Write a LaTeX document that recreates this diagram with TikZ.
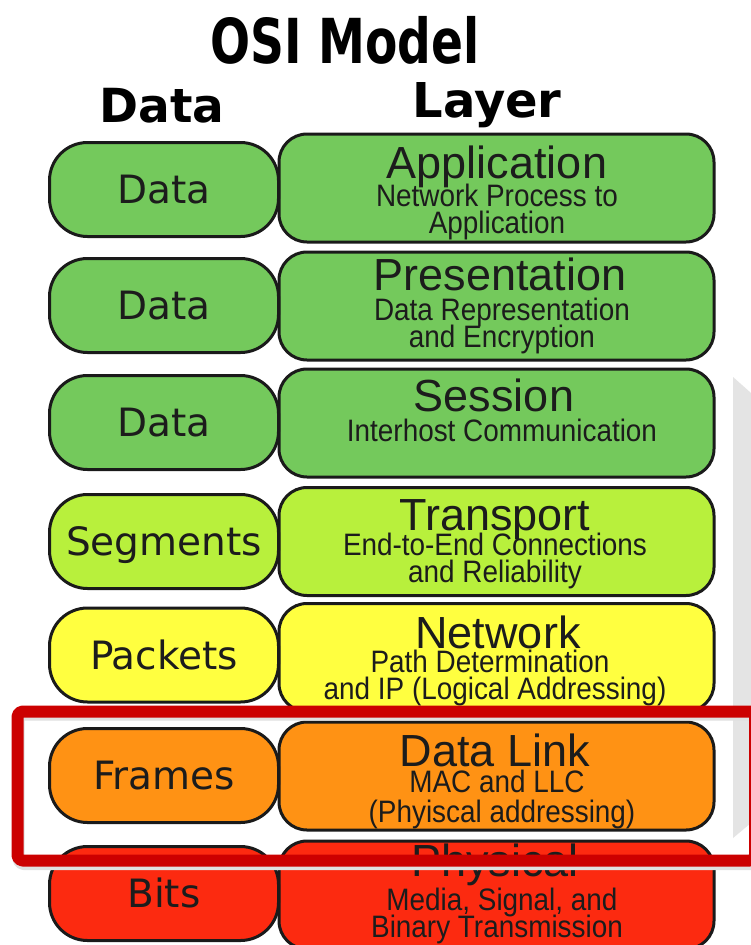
\documentclass[tikz,border=0pt]{standalone}
\usepackage{fontspec}
\setmainfont{Liberation Sans}
\newfontfamily\tituloFont[FakeStretch=0.76]{DejaVu Sans}
\newfontfamily\unidadFont{DejaVu Sans}
\newfontfamily\capaFont{Liberation Sans}
\newfontfamily\detalleFont[FakeStretch=0.9]{Liberation Sans}

\definecolor{verde}{RGB}{116,201,92}
\definecolor{lima}{RGB}{184,240,60}
\definecolor{amarillo}{RGB}{255,255,64}
\definecolor{naranja}{RGB}{255,146,20}
\definecolor{rojo}{RGB}{252,42,16}
\definecolor{borde}{RGB}{26,26,26}
\definecolor{tinta}{RGB}{28,28,28}
\definecolor{marco}{RGB}{204,0,0}
\definecolor{banda}{RGB}{228,228,228}

\tikzset{
  unidad/.style={draw=borde, line width=3pt, rounded corners=38pt,
    minimum width=229pt, minimum height=94pt, inner sep=0pt,
    text height=28pt, text depth=0pt, text=tinta,
    font=\unidadFont\fontsize{39}{39}\selectfont},
  capa/.style={draw=borde, line width=3pt, rounded corners=28pt,
    minimum width=435pt, minimum height=108pt, inner sep=0pt},
  nombre/.style={anchor=base, inner sep=0pt, text=tinta, text depth=0pt,
    font=\capaFont\fontsize{45}{45}\selectfont},
  detalle/.style={anchor=base, inner sep=0pt, text=tinta, text depth=0pt,
    font=\detalleFont\fontsize{31}{31}\selectfont},
}

\begin{document}
\begin{tikzpicture}[x=1pt, y=-1pt, line join=round]
  \useasboundingbox (0,0) rectangle (751,945);
  \fill[white] (0,0) rectangle (751,945);
  % la banda gris de la derecha
  \fill[banda] (733,377) -- (751,393) -- (751,823) -- (733,838) -- cycle;

  % los titulos
  \node[anchor=base, inner sep=0pt, font=\tituloFont\bfseries\fontsize{62}{62}\selectfont] (titulo) at (345,63) {OSI Model};
  \node[anchor=base, inner sep=0pt, font=\unidadFont\bfseries\fontsize{47}{47}\selectfont] (hdato) at (162,122) {Data};
  \node[anchor=base, inner sep=0pt, font=\unidadFont\bfseries\fontsize{48}{48}\selectfont] (hcapa) at (487,117) {Layer};

  % las cajas de cada capa
  \foreach \n/\yl/\yr/\col/\dat in {apl/189.5/188/verde/Data, pre/305.5/306/verde/Data,
      ses/422.5/423/verde/Data, tra/541.5/541.5/lima/Segments, red/655/657.5/amarillo/Packets,
      enl/775.5/776/naranja/Frames, fis/893.5/895/rojo/Bits} {
    \node[capa, fill=\col] (\n) at (496.5,\yr) {};
    \node[unidad, fill=\col] (\n u) at (164,\yl) {\dat};
  }

  % los textos de la derecha
  \node[nombre] (aplT) at (497,178) {Application};
  \node[detalle] (aplA) at (497,206) {Network Process to};
  \node[detalle] (aplB) at (497,233) {Application};
  \node[nombre] (preT) at (500,290) {Presentation};
  \node[detalle] (preA) at (502,320) {Data Representation};
  \node[detalle] (preB) at (502,347) {and Encryption};
  \node[nombre] (sesT) at (494,411) {Session};
  \node[detalle] (sesA) at (502,441) {Interhost Communication};
  \node[nombre] (traT) at (495,530) {Transport};
  \node[detalle] (traA) at (495,555) {End-to-End Connections};
  \node[detalle] (traB) at (495,582) {and Reliability};
  \node[nombre] (redT) at (498,648) {Network};
  \node[detalle] (redA) at (490,672) {Path Determination};
  \node[detalle] (redB) at (495,699) {and IP (Logical Addressing)};
  \node[nombre] (enlT) at (495,766) {Data Link};
  \node[detalle] (enlA) at (497,792) {MAC and LLC};
  \node[detalle] (enlB) at (502,822) {(Phyiscal addressing)};
  \node[nombre] (fisT) at (495,876) {Physical};
  \node[detalle] (fisA) at (502,910) {Media, Signal, and};
  \node[detalle] (fisB) at (497,937) {Binary Transmission};

  % el marco rojo y su sombra
  \draw[line width=12pt, black!12, rounded corners=5pt] (18.5,714.5) rectangle (756,864);
  \draw[line width=12pt, marco, rounded corners=5pt] (17.5,711.5) rectangle (755,860.5);
\end{tikzpicture}
\end{document}
